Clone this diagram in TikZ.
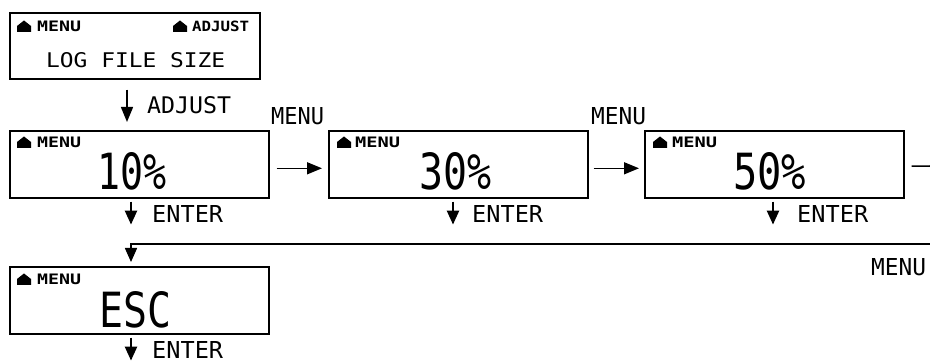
\documentclass[tikz,border=0pt]{standalone}
\usepackage{fontspec}
\usetikzlibrary{arrows.meta,calc}
\newfontfamily\lcd{DejaVu Sans Mono}
\newfontfamily\lcdb{DejaVu Sans Mono Bold}
\newcommand{\fittext}[3]{\resizebox{#1pt}{#2pt}{\lcd #3}}
\newcommand{\fitbold}[3]{\resizebox{#1pt}{#2pt}{\lcdb #3}}
\newcommand{\houseat}[2]{\fill (#1,#2) -- ++(0,-6) -- ++(7,-5.5) -- ++(7,5.5) -- ++(0,6) -- cycle;}
\tikzset{
  lcdbox/.style={draw, line width=1.6pt, inner sep=0pt, anchor=north west},
  lbl/.style={inner sep=0pt, anchor=base west},
  flowarrow/.style={line width=1.5pt, -{Triangle[length=15pt,width=12pt]}},
  enterarrow/.style={line width=2.4pt, -{Triangle[length=14pt,width=12pt]}},
  plainline/.style={line width=1.5pt},
}
\begin{document}
\begin{tikzpicture}[x=1pt,y=-1pt]
\useasboundingbox (0,0) rectangle (930,363);
% boxes
\node[lcdbox, minimum width=250pt, minimum height=66pt] (T) at (9,12) {};
\node[lcdbox, minimum width=259pt, minimum height=67pt] (B1) at (9,130) {};
\node[lcdbox, minimum width=259pt, minimum height=67pt] (B2) at (328,130) {};
\node[lcdbox, minimum width=259pt, minimum height=67pt] (B3) at (644,130) {};
\node[lcdbox, minimum width=259pt, minimum height=67pt] (E) at (9,266) {};
% top box text
\houseat{17}{32}
\node[lbl] (tm) at (37,32) {\fitbold{44}{10.5}{MENU}};
\houseat{173}{32}
\node[lbl] (ta) at (192,32) {\fitbold{57}{10.5}{ADJUST}};
\node[lbl] (tl) at (46,68) {\fittext{179}{15}{LOG FILE SIZE}};
% row boxes text
\houseat{17}{148}
\node[lbl] (m1) at (37,148) {\fitbold{44}{10.5}{MENU}};
\node[lbl] (v1) at (97,190) {\fittext{69}{37}{10\%}};
\houseat{337}{148}
\node[lbl] (m2) at (355,148) {\fitbold{45}{10.5}{MENU}};
\node[lbl] (v2) at (419,190) {\fittext{72}{37}{30\%}};
\houseat{653}{148}
\node[lbl] (m3) at (672,148) {\fitbold{45}{10.5}{MENU}};
\node[lbl] (v3) at (733,190) {\fittext{73}{37}{50\%}};
\houseat{17}{285}
\node[lbl] (m4) at (37,285) {\fitbold{44}{10.5}{MENU}};
\node[lbl] (v4) at (99,328) {\fittext{72}{36}{ESC}};
% outside labels
\node[lbl] (ladj) at (147,114) {\fittext{84}{17}{ADJUST}};
\node[lbl] (lm1) at (271,125) {\fittext{53}{17}{MENU}};
\node[lbl] (lm2) at (591,125) {\fittext{55}{17}{MENU}};
\node[lbl] (lm3) at (871,276) {\fittext{55}{17}{MENU}};
\node[lbl] (le1) at (152,223) {\fittext{71}{17}{ENTER}};
\node[lbl] (le2) at (472,223) {\fittext{71}{17}{ENTER}};
\node[lbl] (le3) at (797,223) {\fittext{71}{17}{ENTER}};
\node[lbl] (le4) at (152,359) {\fittext{71}{17}{ENTER}};
% connector x positions
\coordinate (xa) at (127,0);
\coordinate (x1) at (131,0);
\coordinate (x2) at (453,0);
\coordinate (x3) at (773,0);
\coordinate (rend1) at (930,166);
\coordinate (rend2) at (930,244);
% arrows
\draw[flowarrow, shorten <=10pt, shorten >=8pt] (T.south -| xa) -- (B1.north -| xa);
\draw[flowarrow, shorten <=7pt, shorten >=6pt] ([yshift=-4pt]B1.east) -- ([yshift=-4pt]B2.west);
\draw[flowarrow, shorten <=5pt, shorten >=5pt] ([yshift=-4pt]B2.east) -- ([yshift=-4pt]B3.west);
\draw[plainline, shorten <=7pt] ([yshift=-2pt]B3.east) -- (rend1);
\draw[enterarrow] ([yshift=-3pt]B1.south -| x1) -- ++(0,23);
\draw[enterarrow] ([yshift=-3pt]B2.south -| x2) -- ++(0,23);
\draw[enterarrow] ([yshift=-3pt]B3.south -| x3) -- ++(0,23);
\draw[enterarrow] ([yshift=-3pt]E.south -| x1) -- ++(0,23);
\draw[plainline, -{Triangle[length=14pt,width=12pt]}, shorten >=4pt] (rend2) -| (E.north -| x1);
\end{tikzpicture}
\end{document}
